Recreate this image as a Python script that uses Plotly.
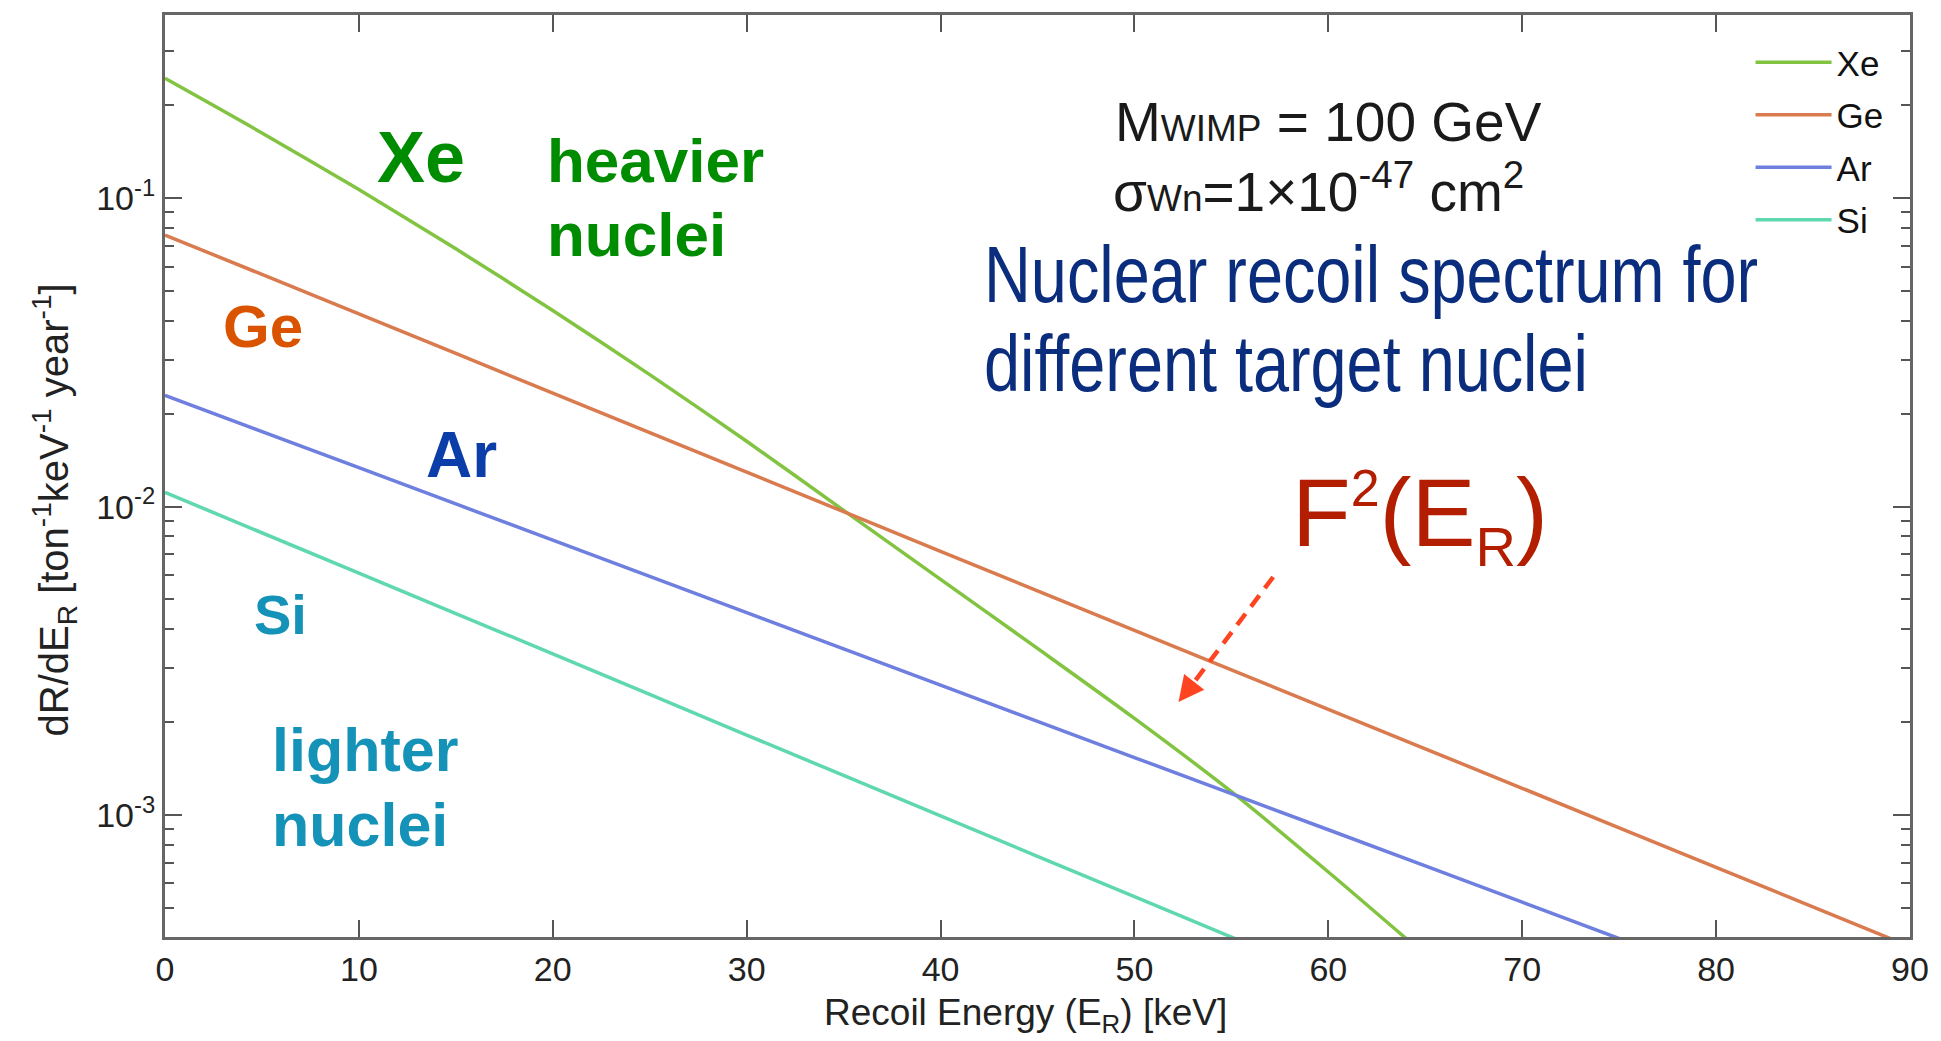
import plotly.graph_objects as go

# ---------------- data ----------------
energy_xe = [0, 5, 10, 15, 20, 25, 30, 35, 40, 45, 50, 55, 60, 65]
rate_xe = [0.2449, 0.1629, 0.1067, 0.06855, 0.04325, 0.02679, 0.01629,
           0.009727, 0.005808, 0.003467, 0.002056, 0.001189, 0.000653,
           0.000351]

energy_ge = [0, 10, 20, 30, 40, 50, 60, 70, 80, 90]
rate_ge = [0.0760, 0.0422, 0.02334, 0.01294, 0.00716, 0.00397, 0.00220,
           0.00122, 0.000676, 0.000374]

energy_ar = [0, 10, 20, 30, 40, 50, 60, 70, 80]
rate_ar = [0.02296, 0.01337, 0.00778, 0.00453, 0.002636, 0.001535, 0.000895,
           0.000521, 0.000303]

energy_si = [0, 10, 20, 30, 40, 50, 60]
rate_si = [0.01112, 0.00608, 0.00333, 0.001816, 0.000993, 0.000543, 0.000297]

series_names = ["Xe", "Ge", "Ar", "Si"]
series_colors = ["#82c341", "#d97b4e", "#6f7fe0", "#5fd8b0"]

x_ticks = [0, 10, 20, 30, 40, 50, 60, 70, 80, 90]
y_ticks = [1e-3, 1e-2, 1e-1]
y_ticktext = ["10<sup>-3</sup>", "10<sup>-2</sup>", "10<sup>-1</sup>"]
y_minor = [m * 10.0 ** e for e in (-4, -3, -2, -1) for m in range(2, 10)]

# ---------------- layout geometry ----------------
W_FIG, H_FIG = 1941, 1041
L, R, T, B = 165, 25, 15, 104
PW, PH = W_FIG - L - R, H_FIG - T - B


def px(x):
    return (x - L) / PW


def py(y):
    return 1 - (y - T) / PH


FONT = "Liberation Sans, Arial, sans-serif"

fig = go.Figure()
for name, xs, ys, col in zip(series_names,
                             [energy_xe, energy_ge, energy_ar, energy_si],
                             [rate_xe, rate_ge, rate_ar, rate_si],
                             series_colors):
    fig.add_trace(go.Scatter(x=xs, y=ys, mode="lines", name=name,
                             legendgroup=name,
                             line=dict(color=col, width=3.5, shape="spline",
                                       smoothing=0.8)))

annots = []


def label(text, left, cy, size, color, bold=False, **kw):
    d = dict(text=text, x=px(left), y=py(cy), xref="paper",
             yref="paper", xanchor="left", yanchor="middle",
             showarrow=False,
             font=dict(size=size, color=color, family=FONT,
                       weight="bold" if bold else "normal"))
    d.update(kw)
    annots.append(d)


label("Xe", 376, 157, 72, "#008c00", True)
label("heavier", 546, 161, 62, "#008c00", True)
label("nuclei", 546, 235, 62, "#008c00", True)
label("Ge", 221, 326, 60, "#d95300", True)
label("Ar", 425, 455, 64, "#0b3ea8", True)
label("Si", 252, 614, 56, "#1592b8", True)
label("lighter", 270, 750, 61, "#1592b8", True)
label("nuclei", 270, 825, 61, "#1592b8", True)

label('M<span style="font-size:37px">WIMP</span> = 100 GeV', 1116, 122, 55,
      "#1a1a1a")
label('σ<span style="font-size:37px">Wn</span>=1×10<sup>-47</sup> cm<sup>2</sup>',
      1114, 188, 55, "#1a1a1a")
label("Nuclear recoil spectrum for", 985, 274, 80, "#0b2d7d")
label("different target nuclei", 985, 364, 80, "#0b2d7d")
label('F<sup><span style="font-size:52px">2</span></sup>(E<sub><span style="font-size:56px">R</span></sub>)',
      1294, 518, 96, "#b31d00")

# axis titles
annots.append(dict(
    text="dR/dE<sub>R</sub> [ton<sup>-1</sup>keV<sup>-1</sup> year<sup>-1</sup>]",
    x=px(54), y=py(510), xref="paper", yref="paper", xanchor="center",
    yanchor="middle", textangle=-90, showarrow=False,
    font=dict(size=40, color="#222", family=FONT)))
annots.append(dict(
    text="Recoil Energy (E<sub>R</sub>) [keV]",
    x=px(1028), y=py(1015), xref="paper", yref="paper", xanchor="center",
    yanchor="middle", showarrow=False,
    font=dict(size=37, color="#222", family=FONT)))

# arrow head (solid) + dashed shaft
tip = (1182, 702)
tail = (1277, 577)
annots.append(dict(x=px(tip[0]), y=py(tip[1]), xref="paper", yref="paper",
                   ax=14, ay=-18, axref="pixel", ayref="pixel", text="",
                   showarrow=True, arrowhead=2, arrowsize=1.7,
                   arrowwidth=3, arrowcolor="#ff4422"))

shapes = [dict(type="line", xref="paper", yref="paper",
               x0=px(tail[0]), y0=py(tail[1]),
               x1=px(tip[0] + 15), y1=py(tip[1] - 19),
               line=dict(color="#ff4422", width=4.5, dash="14px,9px"))]

fig.update_layout(
    width=W_FIG, height=H_FIG,
    margin=dict(l=L, r=R, t=T, b=B),
    plot_bgcolor="white", paper_bgcolor="white",
    font=dict(family=FONT, color="#222222"),
    annotations=annots, shapes=shapes,
    showlegend=True,
    legend=dict(x=px(1756), y=py(33), xanchor="left", yanchor="top",
                bgcolor="rgba(0,0,0,0)", font=dict(size=35, color="#111"),
                traceorder="grouped", tracegroupgap=4, itemwidth=76),
    xaxis=dict(range=[0, 90], tickvals=x_ticks, ticks="inside", ticklen=17,
               tickwidth=2, tickcolor="#555", showgrid=False, zeroline=False,
               showline=True, linecolor="#666", linewidth=3, mirror="allticks",
               tickfont=dict(size=34, color="#222")),
    yaxis=dict(type="log", range=[-3.396, -0.4055], tickvals=y_ticks,
               ticktext=y_ticktext, ticks="inside", ticklen=17, tickwidth=2,
               tickcolor="#555", showgrid=False, zeroline=False,
               showline=True, linecolor="#666", linewidth=3, mirror="allticks",
               tickfont=dict(size=34, color="#222"),
               minor=dict(tickvals=y_minor, ticks="inside", ticklen=9,
                          tickwidth=2, tickcolor="#555", showgrid=False)),
)

# The reference uses a condensed face for the blue caption; no condensed
# font is installed, so the (real, selectable) text is narrowed horizontally.
POST = """
document.body.style.margin='0';
function narrowCaption(){
  document.querySelectorAll('text.annotation-text').forEach(function(el){
    var t = el.textContent || '';
    if ((t.indexOf('Nuclear') === 0 || t.indexOf('different') === 0) && !el.dataset.narrowed){
      var bb = el.getBBox();
      var x0 = bb.x;
      var tr = el.getAttribute('transform') || '';
      el.setAttribute('transform', tr + ' translate(' + x0 + ',0) scale(0.81,1) translate(' + (-x0) + ',0)');
      el.dataset.narrowed = '1';
    }
  });
}
narrowCaption();
setTimeout(narrowCaption, 0);
setTimeout(narrowCaption, 300);
"""

fig.write_html("out.html", post_script=POST,
               config={"displayModeBar": False})
